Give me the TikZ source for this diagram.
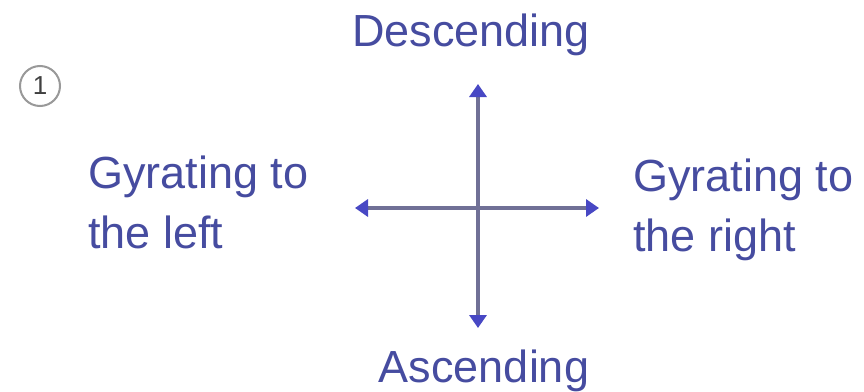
\documentclass[tikz,border=0pt]{standalone}
\usepackage{fontspec}
\setmainfont{Liberation Sans}
\usetikzlibrary{arrows.meta}
\definecolor{txtblue}{RGB}{70,76,160}
\definecolor{linegray}{RGB}{112,112,150}
\definecolor{tipblue}{RGB}{72,72,196}
\begin{document}
\begin{tikzpicture}[x=1pt,y=-1pt,
  lbl/.style={font=\fontsize{45}{60}\selectfont, text=txtblue, inner sep=0pt},
  axis/.style={draw=linegray, line width=4pt,
    {Triangle[color=tipblue,length=13pt,width=17pt]}-{Triangle[color=tipblue,length=13pt,width=17pt]}}]
\useasboundingbox[fill=white] (0,0) rectangle (864,391);
\coordinate (top) at (478,84);
\coordinate (bot) at (478,328);
\coordinate (lft) at (355,208);
\coordinate (rgt) at (599,208);
\draw[axis] (bot) -- (top);
\draw[axis] (lft) -- (rgt);
\node[lbl, anchor=base] (desc) at (471,46) {Descending};
\node[lbl, anchor=base] (asc) at (484,382) {Ascending};
\node[lbl, anchor=base west, align=left] (left) at (88,248) {Gyrating to\\the left};
\node[lbl, anchor=base west, align=left] (right) at (633,251) {Gyrating to\\the right};
\node[circle, draw=gray!80, line width=2pt, minimum size=40pt, inner sep=0pt,
  font=\fontsize{26}{28}\selectfont, text=black!75] (num) at (40,86) {1};
\end{tikzpicture}
\end{document}
